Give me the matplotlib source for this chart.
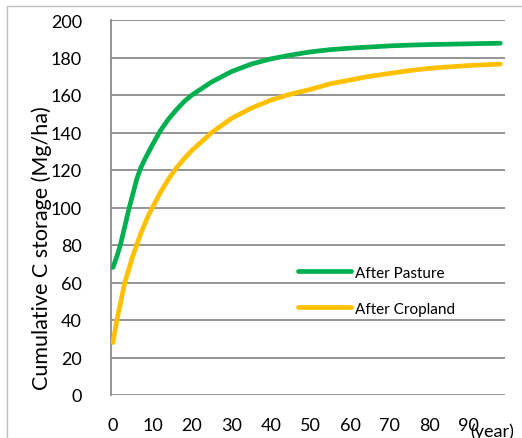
import matplotlib
matplotlib.use("Agg")
import matplotlib.pyplot as plt
from matplotlib.patches import Rectangle

plt.rcParams['font.family'] = ['Lato', 'DejaVu Sans']

years = [0, 1, 2, 3, 4, 5, 6, 7, 8, 9, 10, 12, 14, 16, 18, 20, 25, 30, 35, 40,
         45, 50, 55, 60, 65, 70, 75, 80, 85, 90, 95, 98]
after_pasture = [68, 74, 81, 90, 99, 107, 115, 121, 125.5, 129.5, 133.5, 141, 147, 152, 156.5, 160,
                 167, 172.5, 176.5, 179.3, 181.3, 183, 184.2, 185, 185.6, 186.2, 186.6, 186.9,
                 187.1, 187.3, 187.5, 187.6]
after_cropland = [28, 40, 50, 60, 67, 74, 80, 86, 91, 96, 100, 108, 115, 121, 126, 130.5,
                  140, 147.5, 153, 157.3, 160.5, 163, 166, 168, 170, 171.5, 173, 174.2,
                  175, 175.7, 176.2, 176.5]
series_labels = ['After Pasture', 'After Cropland']
y_ticks = [0, 20, 40, 60, 80, 100, 120, 140, 160, 180, 200]
x_ticks = [0, 10, 20, 30, 40, 50, 60, 70, 80, 90]

fig = plt.figure(figsize=(5.22, 4.39), dpi=100)
fig.patches.append(Rectangle((7 / 522, -0.1), 1.2, 1.1 - 7 / 439,
                             transform=fig.transFigure, fill=False,
                             edgecolor='#bfbfbf', linewidth=1.0))
ax = fig.add_axes([111 / 522, 1 - 396 / 439, 394 / 522, 375 / 439])

ax.plot(years, after_pasture, color='#00B050', linewidth=3.4,
        solid_capstyle='round', label=series_labels[0], zorder=3)
ax.plot(years, after_cropland, color='#FFC000', linewidth=3.4,
        solid_capstyle='round', label=series_labels[1], zorder=3)

ax.set_ylim(0, 200)
ax.set_xlim(-0.5, 99.2)
ax.set_yticks(y_ticks)
ax.set_xticks(x_ticks)
ax.grid(axis='y', color='#8c8c8c', linewidth=1.3)
ax.set_axisbelow(True)
for s in ['top', 'right', 'bottom']:
    ax.spines[s].set_visible(False)
ax.spines['left'].set_color('#8c8c8c')
ax.spines['left'].set_linewidth(1.3)
ax.tick_params(axis='both', length=0, labelsize=13, colors='#000000')
ax.tick_params(axis='y', pad=21)
ax.tick_params(axis='x', pad=16)

ax.set_ylabel('Cumulative C storage (Mg/ha)', fontsize=15.5)
ax.yaxis.set_label_coords(-0.15, 0.395)
fig.text(470 / 522, 1 - 432 / 439, '(year)', fontsize=13, va='center', ha='left')

leg = ax.legend(loc='upper left', bbox_to_anchor=(0.4746, 0.345), frameon=False,
                fontsize=11, handlelength=3.5, handletextpad=0.2, labelspacing=1.45,
                borderpad=0, borderaxespad=0)
for h in leg.get_lines():
    h.set_linewidth(3.4)

fig.savefig('out.png', dpi=100)
